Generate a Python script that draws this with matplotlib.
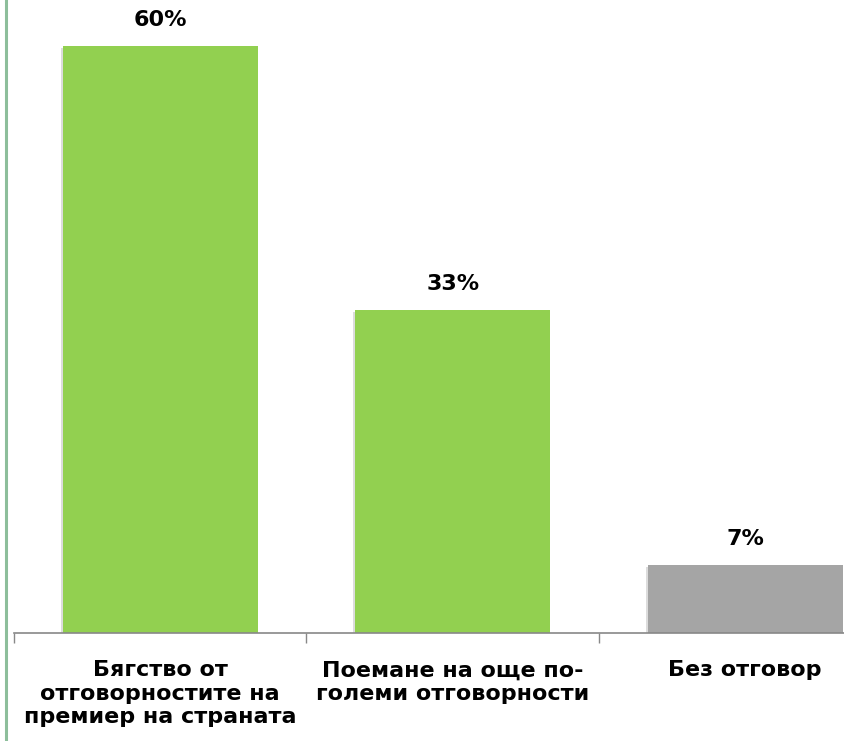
import matplotlib
matplotlib.use('Agg')
import matplotlib.pyplot as plt
from matplotlib.lines import Line2D
import matplotlib.patheffects as pe

categories = ['Бягство от\nотговорностите на\nпремиер на страната',
              'Поемане на още по-\nголеми отговорности',
              'Без отговор']
values = [60, 33, 7]
labels = ['60%', '33%', '7%']
colors = ['#92D050', '#92D050', '#A5A5A5']

W, H = 844, 741
fig = plt.figure(figsize=(W / 100, H / 100), dpi=100)

# axes run past the right edge of the picture, as in the original crop
px_per_unit = 587 / 60
ymax = 66
ax = fig.add_axes([14 / W, 108 / H, 877.5 / W, ymax * px_per_unit / H])

x = range(len(values))
bars = ax.bar(x, values, width=0.667, color=colors, zorder=2)
for b in bars:
    b.set_path_effects([pe.SimplePatchShadow(offset=(-1.5, -1.5), shadow_rgbFace='#bbbbbb', alpha=0.5),
                        pe.Normal()])

for i, (v, t) in enumerate(zip(values, labels)):
    ax.text(i, v + 1.6, t, ha='center', va='bottom', fontsize=16,
            fontweight='bold', color='#000000')

ax.set_xlim(-0.5, len(values) - 0.5)
ax.set_ylim(0, ymax)
ax.set_xticks([-0.5, 0.5, 1.5, 2.5])
ax.set_xticklabels([])
ax.tick_params(axis='x', direction='out', length=7, width=1, color='#888888')
ax.set_yticks([])
for s in ['top', 'right', 'left']:
    ax.spines[s].set_visible(False)
ax.spines['bottom'].set_color('#888888')
ax.spines['bottom'].set_linewidth(1.2)

for i, c in enumerate(categories):
    ax.text(i, -2.8, c, ha='center', va='top', fontsize=16, fontweight='bold',
            linespacing=1.2, color='#000000')

fig.add_artist(Line2D([6 / W, 6 / W], [0, 1], color='#8DBE9B', linewidth=2.2))

fig.savefig('out.png', dpi=100)
